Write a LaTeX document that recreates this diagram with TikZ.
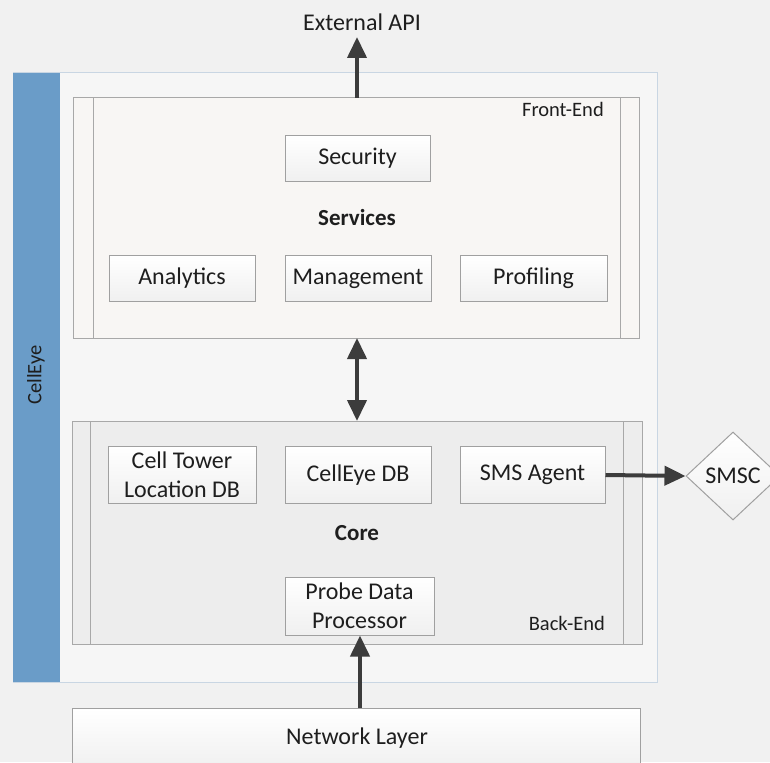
\documentclass[tikz,border=0pt]{standalone}
\usepackage{fontspec}
\setmainfont{Carlito}
\usetikzlibrary{arrows.meta,shapes.geometric}
\definecolor{bg}{HTML}{F1F1F1}
\definecolor{blueb}{HTML}{6A9CC8}
\definecolor{outerbd}{HTML}{C9D6E3}
\definecolor{outerfill}{HTML}{F6F6F6}
\definecolor{fefill}{HTML}{F8F6F4}
\definecolor{befill}{HTML}{EDEDED}
\definecolor{contbd}{HTML}{A8A8A8}
\definecolor{boxbd}{HTML}{A0A0A0}
\definecolor{txt}{HTML}{1E1E1E}
\definecolor{arr}{HTML}{3C3C3C}
\tikzset{
  box/.style={draw=boxbd, line width=1pt, top color=white, bottom color=black!6,
    text=txt, font=\fontsize{24}{29}\selectfont, align=center, inner sep=0pt,
    minimum width=147pt, minimum height=46pt},
  cont/.style={draw=contbd, line width=1pt},
  bigarrow/.style={draw=arr, line width=4pt, -{Triangle[width=19pt,length=21pt]}},
  lbl/.style={text=txt, font=\fontsize{24}{29}\selectfont, inner sep=0pt},
  small/.style={text=txt, font=\fontsize{20.5}{24}\selectfont, inner sep=0pt},
}
\begin{document}
\begin{tikzpicture}[x=1pt,y=-1pt]
\useasboundingbox (0,0) rectangle (770,762);
\fill[bg] (0,0) rectangle (770,762);
% outer CellEye container
\draw[draw=outerbd, fill=outerfill, line width=1pt] (13,73) rectangle (657,682);
\fill[blueb] (13,73) rectangle (60,682);
\node[lbl, rotate=90, font=\fontsize{20.5}{24}\selectfont] (celleye) at (36,375) {CellEye};
% Front-End container
\draw[cont, fill=fefill] (73,98) rectangle (639,338);
\draw[contbd, line width=1pt] (93,98) -- (93,338);
\draw[contbd, line width=1pt] (620,98) -- (620,338);
\node[small, anchor=north east] (fe) at (604,102) {Front-End};
% Back-End container
\draw[cont, fill=befill] (72,421) rectangle (642,644);
\draw[contbd, line width=1pt] (90,421) -- (90,644);
\draw[contbd, line width=1pt] (623,421) -- (623,644);
\node[small, anchor=south east] (be) at (605,631) {Back-End};
% service boxes
\node[box, minimum width=145pt] (sec) at (357.5,158.5) {Security};
\node[lbl, font=\bfseries\fontsize{23}{28}\selectfont] (services) at (357,218) {Services};
\node[box, minimum width=146pt] (ana) at (182,278.5) {Analytics};
\node[box, minimum width=146pt] (man) at (358,278.5) {Management};
\node[box, minimum width=147pt] (pro) at (533.5,278.5) {Profiling};
% core boxes
\node[box, minimum width=148pt, minimum height=57pt] (ctl) at (182,475) {Cell Tower\\Location DB};
\node[box, minimum width=146pt, minimum height=57pt] (cdb) at (358,475) {CellEye DB};
\node[box, minimum width=145pt, minimum height=57pt] (sms) at (532.5,475) {SMS Agent};
\node[lbl, font=\bfseries\fontsize{23}{28}\selectfont] (core) at (357,533) {Core};
\node[box, minimum width=149pt, minimum height=58pt] (pdp) at (359.5,606) {Probe Data\\Processor};
% network layer
\node[box, minimum width=568pt, minimum height=60pt, anchor=north west] (net) at (72,708) {};
\node[lbl] (netl) at (357,738) {Network Layer};
% external API
\node[lbl] (api) at (362,22) {External API};
% SMSC
\node[draw=boxbd, line width=1pt, top color=white, bottom color=black!6, diamond,
  minimum width=94pt, minimum height=88pt, inner sep=0pt, text=txt,
  font=\fontsize{24}{29}\selectfont] (smsc) at (733,476) {SMSC};
% arrows
\coordinate (fetop) at (357,98);
\coordinate (febot) at (357,338);
\coordinate (betop) at (357,421);
\draw[bigarrow] (fetop) -- (357,37);
\draw[draw=arr, line width=4pt, {Triangle[width=19pt,length=21pt]}-{Triangle[width=19pt,length=21pt]}] (febot) -- (betop);
\draw[bigarrow] (360,708) -- (pdp.south -| 360,0);
\draw[bigarrow] (sms.east) -- (smsc.west);
\end{tikzpicture}
\end{document}
